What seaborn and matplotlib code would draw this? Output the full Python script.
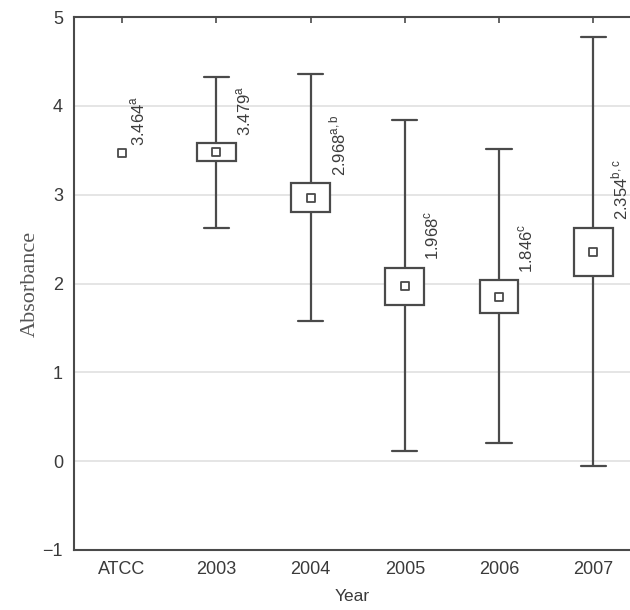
import numpy as np
import pandas as pd
import matplotlib
matplotlib.use("Agg")
import matplotlib.pyplot as plt
import seaborn as sns

# 데이터
groups = ['ATCC', '2003', '2004', '2005', '2006', '2007']
means = [3.464, 3.479, 2.968, 1.968, 1.846, 2.354]
box_lo = [np.nan, 3.38, 2.80, 1.76, 1.67, 2.08]
box_hi = [np.nan, 3.58, 3.13, 2.18, 2.04, 2.63]
whisk_lo = [np.nan, 2.62, 1.58, 0.11, 0.20, -0.06]
whisk_hi = [np.nan, 4.33, 4.36, 3.84, 3.51, 4.77]
letters = ['a', 'a', 'a,b', 'c', 'c', 'b,c']

# boxplot용 5-number 테이블
rows = []
for g, lo, q1, m, q3, hi in zip(groups, whisk_lo, box_lo, means, box_hi, whisk_hi):
    if np.isnan(q1):
        continue
    for v in [lo, q1, m, q3, hi]:
        rows.append({'group': g, 'value': v})
df = pd.DataFrame(rows)

sns.set_style('white')
plt.rcParams['font.family'] = ['Liberation Sans', 'DejaVu Sans']

LINE = '#4a4a4a'
fig = plt.figure(figsize=(6.3, 6.1), dpi=100)
ax = fig.add_axes([74 / 630, 1 - 550 / 610, 1 - 74 / 630, (550 - 17) / 610])

ax.yaxis.grid(True, color='#e0e0e0', linewidth=1.2, zorder=0)
ax.set_axisbelow(True)

sns.boxplot(data=df, x='group', y='value', order=groups, width=0.41, whis=np.inf,
            color='white', saturation=1, linecolor=LINE, linewidth=1.6, fliersize=0,
            medianprops={'linewidth': 0}, capwidths=0.27, ax=ax)

sns.stripplot(x=groups, y=means, order=groups, jitter=False, marker='s', size=5.5,
              color='white', edgecolor=LINE, linewidth=1.3, zorder=5, ax=ax)

# 평균값 + 유의성 문자
for i, (m, top, let) in enumerate(zip(means, box_hi, letters)):
    if np.isnan(top):
        x, y = i + 0.17, m + 0.08
    else:
        x, y = i + 0.29, top + 0.08
    ax.text(x, y, f"{m:.3f}$^{{\\mathregular{{{let}}}}}$", rotation=90,
            ha='center', va='bottom', fontsize=12, color='#3c3c3c')

ax.set_xlim(-0.51, 5.39)
ax.set_ylim(-1, 5)
ax.set_yticks(range(-1, 6))

for s in ['left', 'bottom', 'top']:
    ax.spines[s].set_color(LINE)
    ax.spines[s].set_linewidth(1.5)
ax.spines['right'].set_visible(False)

ax.tick_params(axis='both', direction='in', length=4, width=1.2, color=LINE,
               labelsize=13, labelcolor='#3a3a3a', pad=8)
ax.tick_params(axis='x', top=True)

ax.set_xlabel('Year', fontsize=12.5, color='#3a3a3a', labelpad=8)
ax.set_ylabel('Absorbance', fontsize=16, color='#555555', labelpad=2,
              family=['Liberation Serif', 'DejaVu Serif'])

fig.savefig('out.png', dpi=100)
